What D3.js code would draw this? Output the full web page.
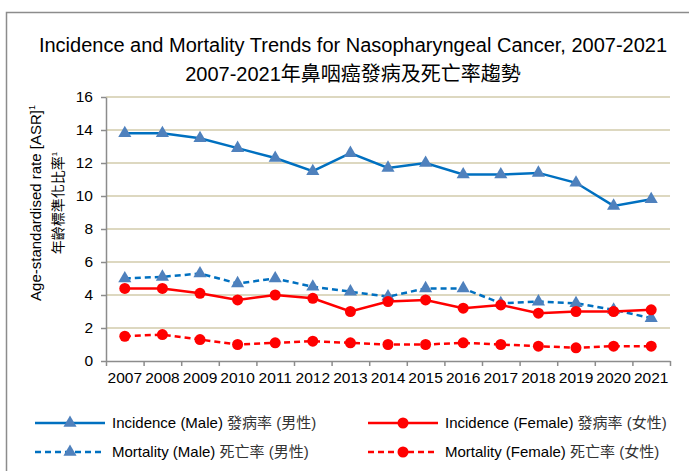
<!DOCTYPE html>
<html>
<head>
<meta charset="utf-8">
<script src="https://cdn.jsdelivr.net/npm/d3@7"></script>
<style>
  body { margin: 0; background: #fff; }
  text { font-family: "Liberation Sans", Arial, "Noto Sans CJK TC", sans-serif; fill: #000; }
</style>
</head>
<body>
<div id="chart"></div>
<script>
// data
const years = ["2007","2008","2009","2010","2011","2012","2013","2014","2015","2016","2017","2018","2019","2020","2021"];
const incMale   = [13.8, 13.8, 13.5, 12.9, 12.3, 11.5, 12.6, 11.7, 12.0, 11.3, 11.3, 11.4, 10.8, 9.4, 9.8];
const incFemale = [4.4, 4.4, 4.1, 3.7, 4.0, 3.8, 3.0, 3.6, 3.7, 3.2, 3.4, 2.9, 3.0, 3.0, 3.1];
const morMale   = [5.0, 5.1, 5.3, 4.7, 5.0, 4.5, 4.2, 3.9, 4.4, 4.4, 3.5, 3.6, 3.5, 3.1, 2.6];
const morFemale = [1.5, 1.6, 1.3, 1.0, 1.1, 1.2, 1.1, 1.0, 1.0, 1.1, 1.0, 0.9, 0.8, 0.9, 0.9];
const yTicks = [0, 2, 4, 6, 8, 10, 12, 14, 16];

const width = 689;
const height = 471;
const margin = {left: 106, right: 19, top: 97, bottom: 110};

const svg = d3.select("#chart")
  .append("svg")
  .attr("width", width)
  .attr("height", height);

// outer frame (runs off the picture on right/bottom)
svg.append("rect")
  .attr("x", 6.5).attr("y", 12.5)
  .attr("width", 720).attr("height", 520)
  .attr("fill", "none")
  .attr("stroke", "#8c8c8c")
  .attr("stroke-width", 1.5);

// titles
svg.append("text")
  .attr("x", 353).attr("y", 52)
  .attr("text-anchor", "middle")
  .attr("font-size", "20px")
  .text("Incidence and Mortality Trends for Nasopharyngeal Cancer, 2007-2021");
svg.append("text")
  .attr("x", 353).attr("y", 81)
  .attr("text-anchor", "middle")
  .attr("font-size", "20px")
  .text("2007-2021年鼻咽癌發病及死亡率趨勢");

const xScale = d3.scaleBand()
  .domain(years)
  .range([margin.left, width - margin.right])
  .padding(0);

const xIdx = d3.scaleLinear()
  .domain([0, years.length])
  .range([margin.left, width - margin.right]);

const yScale = d3.scaleLinear()
  .domain([0, 16])
  .range([height - margin.bottom, margin.top]);

// gridlines
svg.append("g")
  .selectAll("line")
  .data(yTicks.filter(d => d > 0))
  .join("line")
    .attr("x1", margin.left)
    .attr("x2", width - margin.right)
    .attr("y1", d => yScale(d))
    .attr("y2", d => yScale(d))
    .attr("stroke", "#ddd8c0")
    .attr("stroke-width", 2);

// y axis
const yAxis = svg.append("g")
  .attr("transform", `translate(${margin.left},0)`)
  .call(d3.axisLeft(yScale).tickValues(yTicks).tickSize(5).tickSizeOuter(0).tickPadding(8));
yAxis.selectAll("text").attr("font-size", "15.5px");

// x axis: ticks between categories, labels under centres
const xTicks = svg.append("g")
  .attr("transform", `translate(0,${height - margin.bottom})`)
  .call(d3.axisBottom(xIdx).tickValues(d3.range(years.length + 1)).tickSize(5).tickSizeOuter(0).tickFormat(""));
const xLabels = svg.append("g")
  .attr("transform", `translate(0,${height - margin.bottom})`)
  .call(d3.axisBottom(xScale).tickSize(0).tickPadding(11));
xLabels.select(".domain").remove();
xLabels.selectAll("text").attr("font-size", "15.5px");

[yAxis, xTicks].forEach(g => {
  g.selectAll("path, line").attr("stroke", "#8c8c8c").attr("stroke-width", 1.5);
});

// y axis title
svg.append("text")
  .attr("transform", "translate(41,203) rotate(-90)")
  .attr("text-anchor", "middle")
  .attr("font-size", "15px")
  .text("Age-standardised rate [ASR]")
  .append("tspan").attr("dy", -6).attr("font-size", "9px").text("1");
svg.append("text")
  .attr("transform", "translate(63,203) rotate(-90)")
  .attr("text-anchor", "middle")
  .attr("font-size", "14px")
  .attr("fill", "#333")
  .text("年齡標準化比率")
  .append("tspan").attr("dy", -6).attr("font-size", "8px").text("1");

const series = [
  {name: "Incidence (Male)", zh: "發病率 (男性)", values: incMale, color: "#0070c0", mark: "#4f81bd", dash: null, shape: "tri"},
  {name: "Incidence (Female)", zh: "發病率 (女性)", values: incFemale, color: "#ff0000", mark: "#ff0000", dash: null, shape: "dot"},
  {name: "Mortality (Male)", zh: "死亡率 (男性)", values: morMale, color: "#0070c0", mark: "#4f81bd", dash: "6,4", shape: "tri"},
  {name: "Mortality (Female)", zh: "死亡率 (女性)", values: morFemale, color: "#ff0000", mark: "#ff0000", dash: "6,4", shape: "dot"}
];

const cx = d => xScale(d) + xScale.bandwidth() / 2;
const line = d3.line()
  .x((d, i) => cx(years[i]))
  .y(d => yScale(d));

const triangle = d3.symbol().type(d3.symbolTriangle).size(75);

function drawMarker(g, s) {
  if (s.shape === "tri") {
    g.append("path").attr("d", triangle).attr("fill", s.mark);
  } else {
    g.append("circle").attr("r", 5.5).attr("fill", s.mark);
  }
}

// draw back to front: mortality first
[series[3], series[2], series[1], series[0]].forEach(s => {
  svg.append("path")
    .datum(s.values)
    .attr("fill", "none")
    .attr("stroke", s.color)
    .attr("stroke-width", 2.5)
    .attr("stroke-dasharray", s.dash)
    .attr("d", line);

  svg.append("g")
    .selectAll("g")
    .data(s.values)
    .join("g")
      .attr("transform", (d, i) => `translate(${cx(years[i])},${yScale(d)})`)
      .each(function() { drawMarker(d3.select(this), s); });
});

// legend
const legendPos = [
  {x: 35, y: 423}, {x: 368, y: 423},
  {x: 35, y: 452}, {x: 368, y: 452}
];

series.forEach((s, i) => {
  const p = legendPos[i];
  const g = svg.append("g").attr("transform", `translate(${p.x},${p.y})`);
  g.append("line")
    .attr("x1", 0).attr("x2", 70)
    .attr("stroke", s.color)
    .attr("stroke-width", 2.5)
    .attr("stroke-dasharray", s.dash);
  const m = g.append("g").attr("transform", "translate(35,0)");
  drawMarker(m, s);
  const t = g.append("text")
    .attr("x", 77).attr("y", 5)
    .attr("font-size", "15px")
    .text(s.name + " ");
  t.append("tspan").attr("fill", "#333").text(s.zh);
});
</script>
</body>
</html>
